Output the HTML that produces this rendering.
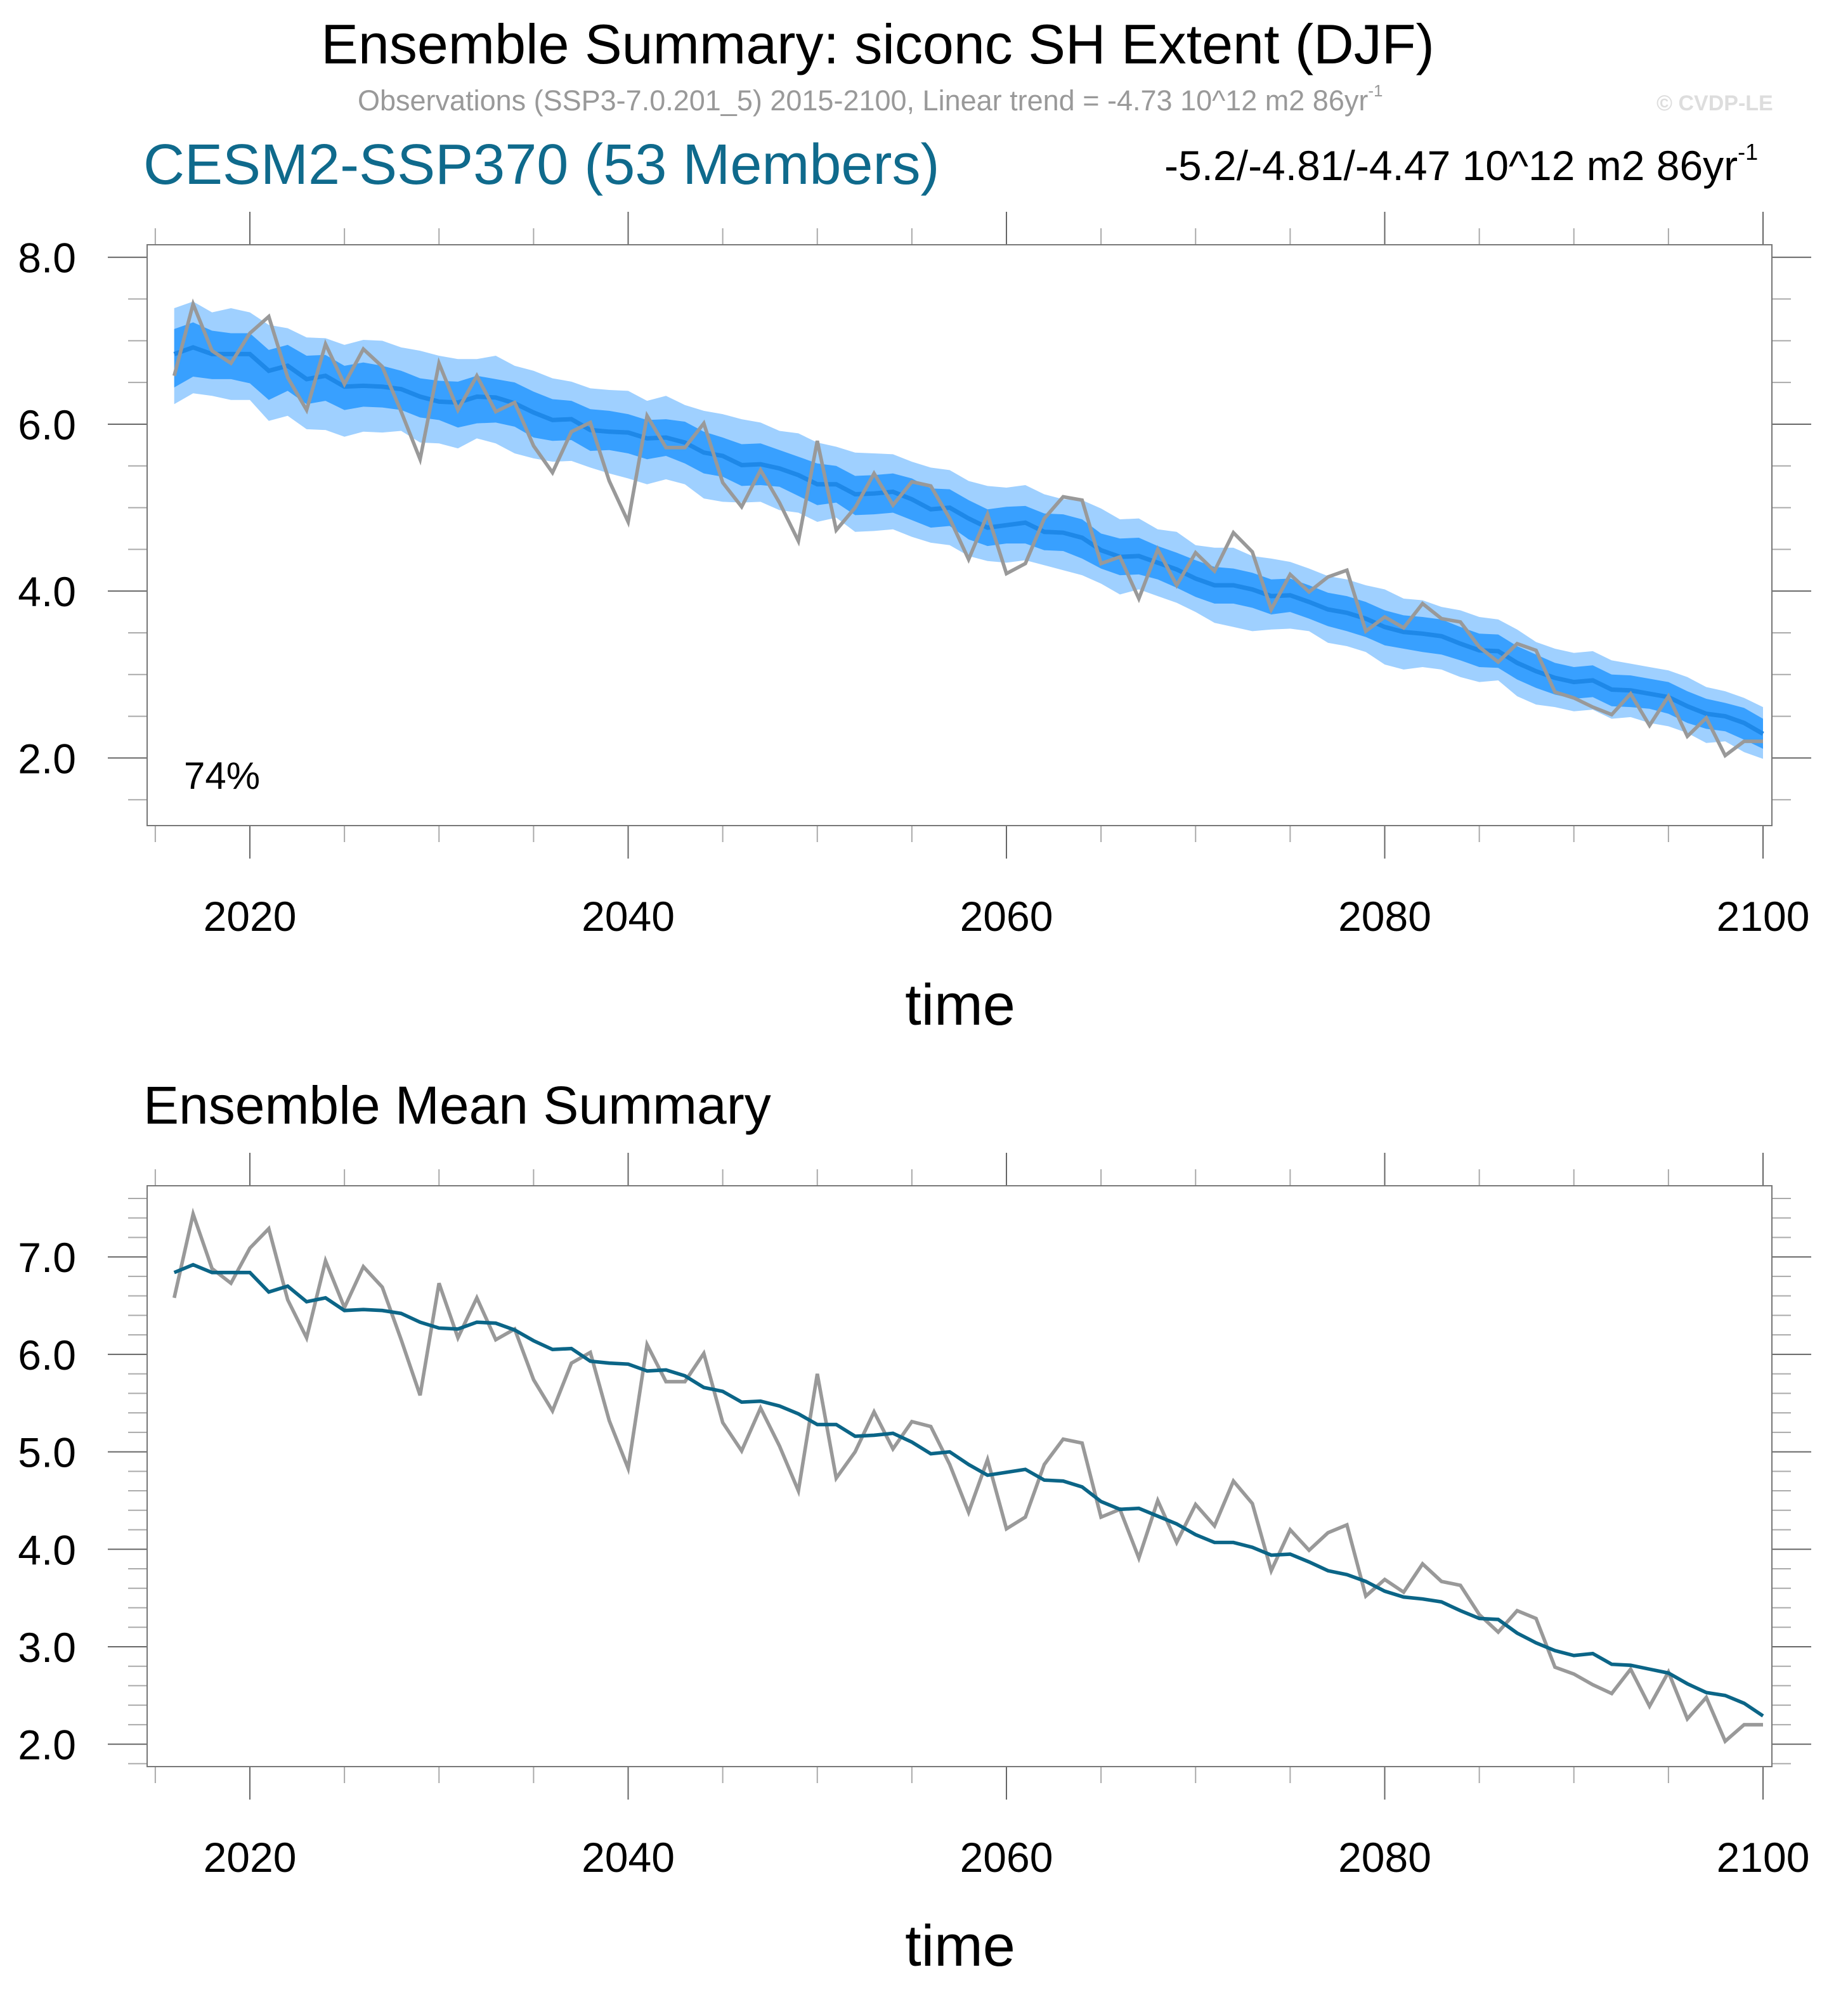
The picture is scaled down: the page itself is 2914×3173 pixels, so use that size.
<!DOCTYPE html>
<html><head><meta charset="utf-8"><style>
html,body{margin:0;padding:0;background:#fff}
svg{display:block}
text{font-family:"Liberation Sans",sans-serif}
</style></head><body>
<svg id="chart" width="2914" height="3173" viewBox="0 0 1457 1586.5" xmlns="http://www.w3.org/2000/svg">
<text x="692" y="50" font-size="44" text-anchor="middle">Ensemble Summary: siconc SH Extent (DJF)</text>
<text x="282" y="87" font-size="22.5" fill="#999">Observations (SSP3-7.0.201_5) 2015-2100, Linear trend = -4.73 10^12 m2 86yr<tspan font-size="13" dy="-11">-1</tspan></text>
<text x="1306" y="87" font-size="17" font-weight="bold" fill="#ddd">© CVDP-LE</text>
<text x="113" y="145" font-size="45" fill="#0f6a8c">CESM2-SSP370 (53 Members)</text>
<text x="918" y="142" font-size="33">-5.2/-4.81/-4.47 10^12 m2 86yr<tspan font-size="18" dy="-16">-1</tspan></text>
<text x="113" y="886" font-size="42">Ensemble Mean Summary</text>
<g id="top"></g>
<g id="bot"></g>
</svg>
<script>
const years = []; for (let y = 2016; y <= 2100; y++) years.push(y);
const obsValues = [6.58,7.44,6.88,6.73,7.09,7.29,6.56,6.17,6.96,6.48,6.9,6.69,6.15,5.58,6.73,6.17,6.58,6.15,6.26,5.74,5.42,5.91,6.02,5.32,4.83,6.1,5.72,5.72,6.01,5.3,5.01,5.45,5.06,4.6,5.8,4.73,5.0,5.41,5.03,5.31,5.26,4.87,4.38,4.92,4.21,4.33,4.87,5.13,5.09,4.33,4.41,3.91,4.5,4.07,4.46,4.24,4.7,4.47,3.78,4.2,3.99,4.17,4.25,3.52,3.69,3.56,3.85,3.67,3.63,3.33,3.15,3.37,3.29,2.79,2.72,2.61,2.52,2.77,2.39,2.74,2.26,2.48,2.03,2.2,2.2];
const meanValues = [6.84,6.92,6.84,6.84,6.84,6.64,6.7,6.54,6.58,6.45,6.46,6.45,6.42,6.33,6.27,6.26,6.33,6.32,6.25,6.14,6.05,6.06,5.93,5.91,5.9,5.83,5.84,5.78,5.66,5.62,5.51,5.52,5.47,5.39,5.28,5.28,5.16,5.17,5.19,5.1,4.98,5.0,4.87,4.76,4.79,4.82,4.71,4.7,4.64,4.49,4.41,4.42,4.34,4.26,4.15,4.07,4.07,4.02,3.94,3.95,3.87,3.78,3.74,3.67,3.57,3.51,3.49,3.46,3.37,3.29,3.28,3.14,3.04,2.96,2.91,2.93,2.82,2.81,2.77,2.73,2.62,2.53,2.5,2.42,2.29,2.31].slice(0,85);
const outerHi = [0.55,0.55,0.5,0.55,0.5,0.55,0.45,0.5,0.45,0.5,0.55,0.55,0.5,0.55,0.55,0.52,0.45,0.5,0.45,0.5,0.5,0.45,0.5,0.5,0.5,0.45,0.5,0.45,0.5,0.5,0.55,0.5,0.45,0.5,0.5,0.45,0.5,0.48,0.45,0.45,0.5,0.45,0.45,0.5,0.45,0.45,0.45,0.4,0.45,0.5,0.45,0.45,0.4,0.45,0.4,0.45,0.45,0.4,0.45,0.4,0.4,0.4,0.4,0.4,0.45,0.4,0.4,0.35,0.4,0.4,0.38,0.4,0.35,0.35,0.35,0.35,0.35,0.32,0.32,0.32,0.35,0.32,0.3,0.3,0.32];
const outerLo = [0.6,0.55,0.5,0.55,0.55,0.6,0.6,0.6,0.65,0.6,0.55,0.55,0.5,0.55,0.5,0.55,0.5,0.55,0.6,0.55,0.5,0.5,0.45,0.5,0.55,0.55,0.5,0.5,0.55,0.55,0.45,0.45,0.5,0.45,0.45,0.4,0.45,0.45,0.45,0.45,0.4,0.45,0.45,0.4,0.45,0.45,0.4,0.45,0.45,0.4,0.45,0.4,0.4,0.4,0.4,0.45,0.5,0.5,0.4,0.4,0.35,0.4,0.4,0.4,0.45,0.45,0.4,0.4,0.4,0.38,0.35,0.4,0.4,0.35,0.35,0.35,0.35,0.32,0.35,0.35,0.32,0.35,0.3,0.35,0.3];
const innerHi = [0.3,0.3,0.28,0.25,0.25,0.25,0.25,0.28,0.25,0.25,0.28,0.25,0.22,0.22,0.25,0.25,0.25,0.22,0.25,0.25,0.25,0.22,0.25,0.25,0.22,0.22,0.22,0.25,0.25,0.22,0.25,0.25,0.22,0.22,0.25,0.22,0.22,0.22,0.22,0.25,0.25,0.22,0.22,0.22,0.22,0.2,0.22,0.22,0.22,0.2,0.22,0.22,0.2,0.2,0.22,0.22,0.2,0.2,0.2,0.2,0.2,0.2,0.2,0.2,0.2,0.2,0.2,0.2,0.2,0.2,0.2,0.2,0.2,0.18,0.18,0.18,0.18,0.18,0.18,0.18,0.18,0.18,0.16,0.18,0.18];
const innerLo = [0.4,0.35,0.3,0.3,0.35,0.35,0.3,0.3,0.3,0.28,0.25,0.25,0.25,0.25,0.22,0.3,0.32,0.3,0.28,0.3,0.25,0.25,0.25,0.22,0.25,0.25,0.22,0.25,0.25,0.25,0.25,0.25,0.22,0.25,0.25,0.22,0.25,0.25,0.25,0.25,0.22,0.22,0.25,0.22,0.22,0.25,0.22,0.22,0.25,0.22,0.22,0.22,0.2,0.22,0.22,0.22,0.22,0.22,0.22,0.2,0.2,0.2,0.22,0.22,0.22,0.2,0.22,0.22,0.2,0.2,0.2,0.2,0.2,0.2,0.2,0.2,0.2,0.2,0.18,0.2,0.2,0.18,0.18,0.2,0.18];
const xTickLabels = [2020,2040,2060,2080,2100];
const topYTicks = ["2.0","4.0","6.0","8.0"];
const botYTicks = ["2.0","3.0","4.0","5.0","6.0","7.0"];

const NS = "http://www.w3.org/2000/svg";
function mk(parent, tag, attrs) {
  const e = document.createElementNS(NS, tag);
  for (const k in attrs) e.setAttribute(k, attrs[k]);
  parent.appendChild(e); return e;
}
const X0 = 116, X1 = 1397;
const xScale = yr => 197 + (yr - 2020) * (1390 - 197) / 80;

function panel(g, top, bot, vmin, vmax, majorStep, minorStep, yticks, name) {
  const ys = v => bot - (v - vmin) / (vmax - vmin) * (bot - top);
  for (let yr = 2015; yr <= 2100; yr += 5) {
    const maj = yr % 20 === 0;
    const x = xScale(yr);
    const len = maj ? 26 : 13;
    const t1 = mk(g, 'line', {x1:x, x2:x, y1:top - len, y2:top, stroke: maj ? '#666' : '#aaa', 'stroke-width':1});
    
    
    const t2 = mk(g, 'line', {x1:x, x2:x, y1:bot, y2:bot + len, stroke: maj ? '#666' : '#aaa', 'stroke-width':1});
    
    
  }
  xTickLabels.forEach(yr => {
    const t = mk(g, 'text', {x:xScale(yr), y:bot + 83, 'font-size':33, 'text-anchor':'middle'});
    t.textContent = yr;
    
    
  });
  const tl = mk(g, 'text', {x:757, y:bot + 157, 'font-size':46, 'text-anchor':'middle'});
  tl.textContent = 'time';
  
  
  for (let v = Math.ceil(vmin / minorStep) * minorStep; v <= vmax + 1e-9; v += minorStep) {
    const maj = Math.abs(v / majorStep - Math.round(v / majorStep)) < 1e-6;
    const y = ys(v);
    const len = maj ? 31 : 15;
    const a = mk(g, 'line', {x1:X0 - len, x2:X0, y1:y, y2:y, stroke: maj ? '#666' : '#aaa', 'stroke-width':1});
    
    
    const b = mk(g, 'line', {x1:X1, x2:X1 + len, y1:y, y2:y, stroke: maj ? '#666' : '#aaa', 'stroke-width':1});
    
    
  }
  yticks.forEach(s => {
    const t = mk(g, 'text', {x:60, y:ys(parseFloat(s)) + 12, 'font-size':33, 'text-anchor':'end'});
    t.textContent = s;
    
    
  });
  const fr = mk(g, 'rect', {x:X0, y:top, width:X1 - X0, height:bot - top, fill:'none', stroke:'#777', 'stroke-width':1});
  
  
  return ys;
}
function band(g, ys, hi, lo, fill, name) {
  let d = '';
  years.forEach((yr, i) => { d += (i ? 'L' : 'M') + xScale(yr) + ',' + ys(meanValues[i] + hi[i]); });
  for (let i = years.length - 1; i >= 0; i--) d += 'L' + xScale(years[i]) + ',' + ys(meanValues[i] - lo[i]);
  const p = mk(g, 'path', {d: d + 'Z', fill: fill});
  
  
}
function line(g, ys, vals, color, w, name) {
  const pts = years.map((yr, i) => xScale(yr) + ',' + ys(vals[i])).join(' ');
  const p = mk(g, 'polyline', {points: pts, fill:'none', stroke: color, 'stroke-width': w, 'stroke-linejoin':'miter'});
  
  
}
const gt = document.getElementById('top');
const ysT = panel(gt, 193, 651, 1.19, 8.15, 2, 0.5, topYTicks, 'top-panel');
band(gt, ysT, outerHi, outerLo, '#9fd0ff', 'ensemble-outer-range');
band(gt, ysT, innerHi, innerLo, '#38a0ff', 'ensemble-inner-range');
line(gt, ysT, meanValues, '#1e88e8', 3.5, 'ensemble-mean-line');
line(gt, ysT, obsValues, '#999', 2.8, 'observations-line');
const pct = mk(gt, 'text', {x:145, y:622, 'font-size':30});
pct.textContent = '74%';



const gb = document.getElementById('bot');
const ysB = panel(gb, 935, 1393, 1.77, 7.73, 1, 0.2, botYTicks, 'bottom-panel');
line(gb, ysB, obsValues, '#999', 2.8, 'observations-line-bottom');
line(gb, ysB, meanValues, '#0b6587', 2.8, 'ensemble-mean-line-bottom');
</script>
</body></html>
